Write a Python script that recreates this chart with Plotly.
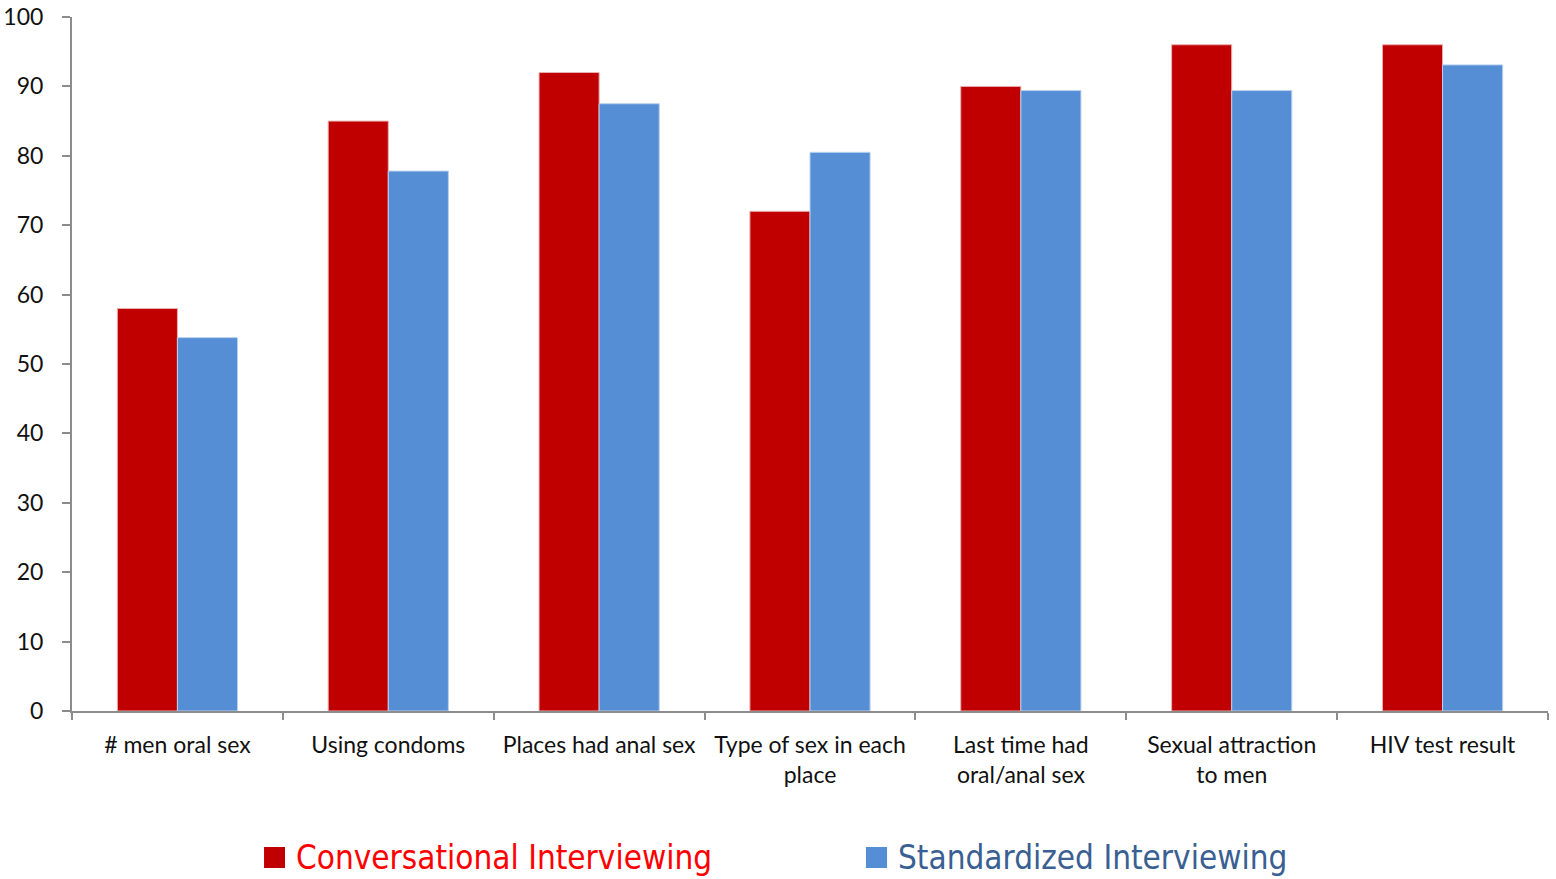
import plotly.graph_objects as go

categories = [
    "# men oral sex",
    "Using condoms",
    "Places had anal sex",
    "Type of sex in each<br>place",
    "Last time had<br>oral/anal sex",
    "Sexual attraction<br>to men",
    "HIV test result",
]
conversational = [58, 85, 92, 72, 90, 96, 96]
standardized = [53.8, 77.8, 87.5, 80.5, 89.4, 89.4, 93.1]

y_ticks = list(range(0, 101, 10))

FONT = "Lato, 'Open Sans', sans-serif"
LEGEND_FONT = "'Liberation Sans Narrow', 'DejaVu Sans Condensed', sans-serif"
AXIS_GREY = "#8c8c8c"
RED, BLUE = "#C00000", "#558ED5"

fig = go.Figure()
fig.add_trace(go.Bar(
    x=categories, y=conversational, name="Conversational Interviewing",
    marker=dict(color=RED, line=dict(color="#E8B0B0", width=1)),
))
fig.add_trace(go.Bar(
    x=categories, y=standardized, name="Standardized Interviewing",
    marker=dict(color=BLUE, line=dict(color="#B9D0EE", width=1)),
))

fig.update_layout(
    width=1556, height=879,
    margin=dict(l=72, r=8, t=17, b=168),
    paper_bgcolor="white", plot_bgcolor="white",
    barmode="group", bargap=0.43, bargroupgap=0,
    showlegend=False,
    font=dict(family=FONT, size=23, color="#111111"),
)
fig.update_xaxes(
    automargin=False, tickangle=0,
    showline=True, linecolor=AXIS_GREY, linewidth=2,
    ticks="outside", tickson="boundaries", ticklen=7, tickwidth=2, tickcolor=AXIS_GREY,
    showgrid=False, tickfont=dict(size=23), ticklabelstandoff=12,
)
fig.update_yaxes(
    automargin=False,
    range=[0, 100], tickvals=y_ticks, showgrid=False, zeroline=False,
    showline=True, linecolor=AXIS_GREY, linewidth=2,
    ticks="outside", ticklen=8, tickwidth=2, tickcolor=AXIS_GREY,
    tickfont=dict(size=23), ticklabelstandoff=14,
)

# Legend drawn below the plot: coloured key squares plus labels
legend_items = [
    (0.1301, 0.1443, RED, 0.1504, "#FF0000", "Conversational Interviewing"),
    (0.5379, 0.5522, BLUE, 0.5583, "#3A5F93", "Standardized Interviewing"),
]
for x0, x1, key_color, tx, text_color, label in legend_items:
    fig.add_shape(
        type="rect", xref="paper", yref="paper",
        x0=x0, x1=x1, y0=-0.2262, y1=-0.196,
        fillcolor=key_color, line=dict(width=0),
    )
    fig.add_annotation(
        xref="paper", yref="paper", x=tx, y=-0.2104, xanchor="left", yanchor="middle",
        showarrow=False, text=label,
        font=dict(family=LEGEND_FONT, size=33, color=text_color),
    )

fig.write_html("out.html")
